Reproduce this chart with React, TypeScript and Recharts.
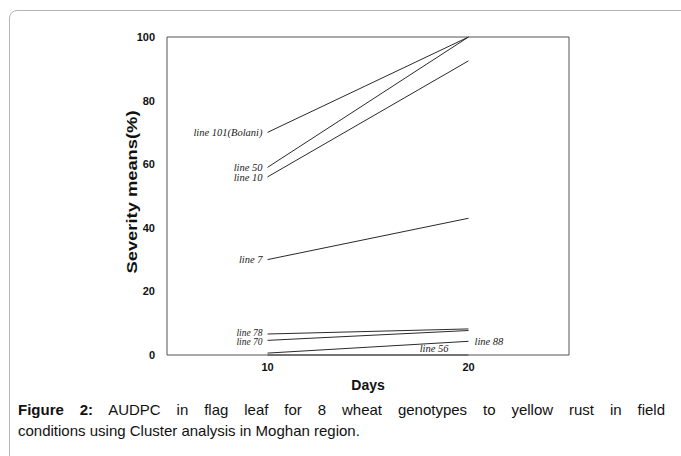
import { Label, LabelList, Line, LineChart, ReferenceLine, XAxis, YAxis } from "recharts";

const days = [10, 20];
const line101 = [70, 100];
const line50 = [59, 100];
const line10 = [56, 92.5];
const line7 = [30, 43];
const line78 = [6.6, 8.2];
const line70 = [4.6, 7.7];
const line88 = [0.6, 4.3];
const line56 = [0, 0];

const yTicks = [0, 20, 40, 60, 80, 100];
const xTicks = [10, 20];

const series = [
  { key: "l101", name: "line 101(Bolani)", values: line101, side: "left", shift: 0 },
  { key: "l50", name: "line 50", values: line50, side: "left", shift: 0 },
  { key: "l10", name: "line 10", values: line10, side: "left", shift: 0 },
  { key: "l7", name: "line 7", values: line7, side: "left", shift: 0 },
  { key: "l78", name: "line 78", values: line78, side: "left", shift: -1.5 },
  { key: "l70", name: "line 70", values: line70, side: "left", shift: 1.5 },
  { key: "l88", name: "line 88", values: line88, side: "right", shift: 0 },
  { key: "l56", name: "line 56", values: line56, side: "below", shift: 0 },
];

const data = days.map((day, i) => {
  const row: any = { day };
  series.forEach((s) => (row[s.key] = s.values[i]));
  return row;
});

const labelFont = "'Liberation Serif', 'DejaVu Serif', serif";
const sans = "'Liberation Sans', Arial, sans-serif";

const makeLabel = (name: string, side: string, shift: number) => (props: any) => {
  const { x, y, index } = props;
  const common = {
    fontFamily: labelFont,
    fontStyle: "italic",
    fontSize: shift ? 9.5 : 10.5,
    fill: "#222",
  };
  if (side === "left" && index === 0) {
    return (
      <text x={x - 5} y={y + shift} dy="0.35em" textAnchor="end" {...common}>
        {name}
      </text>
    );
  }
  if (side === "right" && index === days.length - 1) {
    return (
      <text x={x + 6} y={y} dy="0.35em" textAnchor="start" {...common}>
        {name}
      </text>
    );
  }
  if (side === "below" && index === days.length - 1) {
    return (
      <text x={x - 20} y={y - 3} textAnchor="end" {...common}>
        {name}
      </text>
    );
  }
  return null;
};

export default function App() {
  return (
    <div
      style={{
        position: "absolute",
        left: 0,
        top: 0,
        width: 681,
        height: 456,
        overflow: "hidden",
        background: "#fff",
      }}
    >
      <div
        style={{
          position: "absolute",
          left: 9,
          top: 10,
          width: 700,
          height: 500,
          border: "1.5px solid #b4b4b4",
          borderTopLeftRadius: 8,
        }}
      />
      <div style={{ position: "absolute", left: 0, top: 0 }}>
        <LineChart
          width={681}
          height={400}
          data={data}
          margin={{ top: 37, right: 112, bottom: 15, left: 107 }}
        >
          <XAxis
            dataKey="day"
            type="number"
            domain={[5, 25]}
            ticks={xTicks}
            tickLine={false}
            stroke="#555"
            height={30}
            tick={{ fontFamily: sans, fontSize: 11, fontWeight: 700, fill: "#111" }}
          >
            <Label
              content={({ viewBox }: any) => (
                <text
                  x={viewBox.x + viewBox.width / 2}
                  y={viewBox.y + 35}
                  textAnchor="middle"
                  fontFamily={sans}
                  fontSize={14}
                  fontWeight={700}
                  fill="#111"
                >
                  Days
                </text>
              )}
            />
          </XAxis>
          <YAxis
            type="number"
            domain={[0, 100]}
            ticks={yTicks}
            tickLine={false}
            tickMargin={6}
            stroke="#555"
            width={60}
            tick={{ fontFamily: sans, fontSize: 11, fontWeight: 700, fill: "#111" }}
          >
            <Label
              content={({ viewBox }: any) => {
                const cx = viewBox.x + 30;
                const cy = viewBox.y + viewBox.height / 2 - 4;
                return (
                  <text
                    x={cx}
                    y={cy}
                    transform={`rotate(-90 ${cx} ${cy})`}
                    textAnchor="middle"
                    fontFamily={sans}
                    fontSize={15}
                    fontWeight={700}
                    fill="#111"
                    textLength={163}
                    lengthAdjust="spacingAndGlyphs"
                  >
                    Severity means(%)
                  </text>
                );
              }}
            />
          </YAxis>
          <ReferenceLine y={100} stroke="#555" />
          <ReferenceLine x={25} stroke="#555" />
          {series.map((s) => (
            <Line
              key={s.key}
              dataKey={s.key}
              stroke="#2a2a2a"
              strokeWidth={1}
              dot={false}
              isAnimationActive={false}
            >
              <LabelList dataKey={s.key} content={makeLabel(s.name, s.side, s.shift)} />
            </Line>
          ))}
        </LineChart>
      </div>
      <div
        style={{
          position: "absolute",
          left: 18,
          top: 399,
          width: 647,
          fontFamily: sans,
          fontSize: 15,
          lineHeight: "21px",
          color: "#111",
        }}
      >
        <div style={{ textAlign: "justify", textAlignLast: "justify" }}>
          <b>Figure 2:</b> AUDPC in flag leaf for 8 wheat genotypes to yellow rust in field
        </div>
        <div>conditions using Cluster analysis in Moghan region.</div>
      </div>
    </div>
  );
}
